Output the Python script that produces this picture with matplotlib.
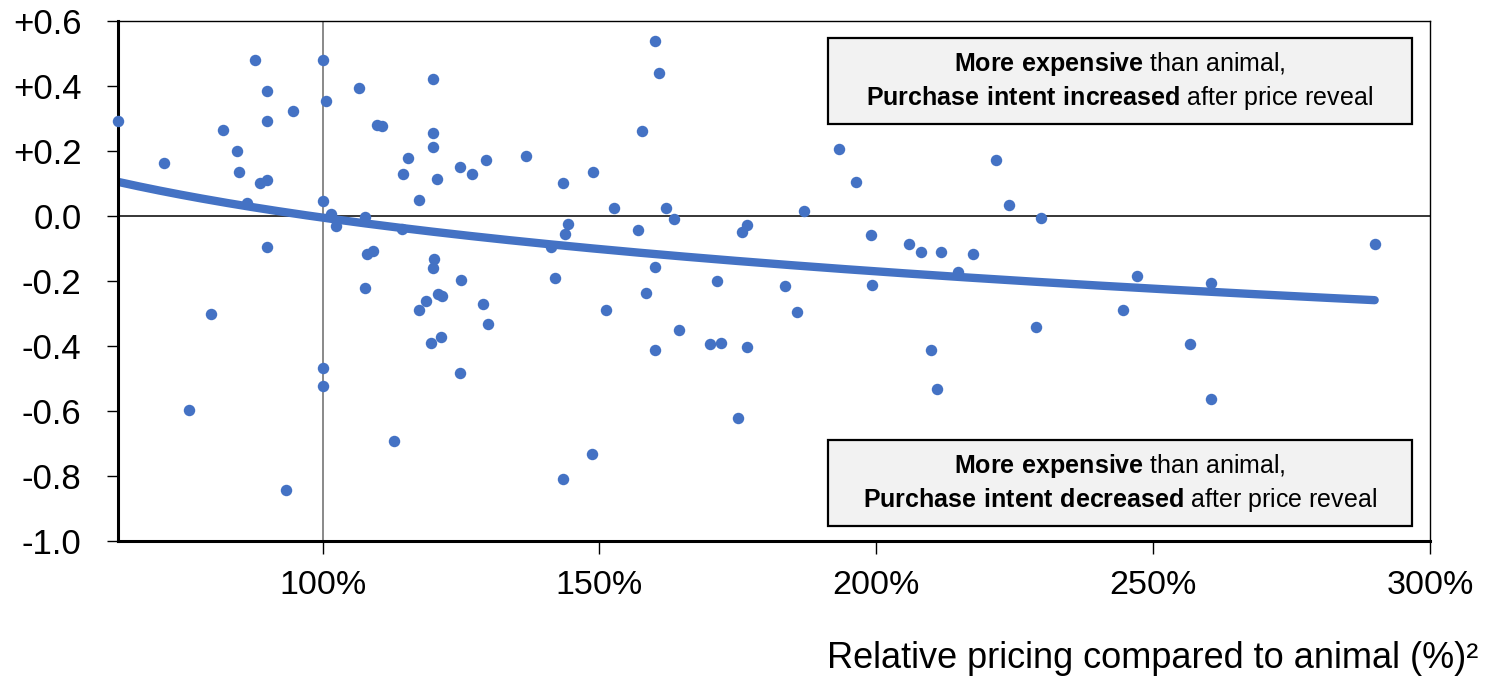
import matplotlib
matplotlib.use("Agg")
import matplotlib.pyplot as plt
import matplotlib.patches as patches
import numpy as np

plt.rcParams['font.family'] = ['Liberation Sans', 'DejaVu Sans']
plt.rcParams['mathtext.fontset'] = 'custom'
plt.rcParams['mathtext.rm'] = 'Liberation Sans'
plt.rcParams['mathtext.bf'] = 'Liberation Sans:bold'

# relative price vs animal (%), change in purchase intent after price reveal
price_pct = [
    63.0, 71.3, 87.8, 82.0, 84.5, 84.9, 89.9, 89.9, 94.7, 88.7,
    90.0, 86.4, 100.0, 100.7, 100.0, 101.6, 102.5, 106.6, 109.9, 110.8,
    107.6, 119.9, 120.0, 120.0, 115.4, 114.6, 120.6, 117.5, 124.8, 127.0,
    129.5, 136.7, 114.3, 90.0, 108.1, 109.1, 120.2, 119.9, 125.0, 107.6,
    79.9, 75.8, 93.4, 100.0, 100.0, 112.9, 120.8, 121.6, 118.7, 117.5,
    129.0, 129.9, 119.6, 121.3, 124.8, 143.4, 148.8, 160.1, 160.7, 157.6,
    152.6, 162.0, 163.4, 144.4, 143.7, 157.0, 141.2, 175.7, 176.7, 187.0,
    193.3, 196.3, 199.1, 205.9, 208.1, 211.7, 160.1, 142.0, 171.3, 151.1,
    158.5, 183.6, 185.6, 199.2, 164.3, 160.1, 170.0, 172.0, 176.6, 175.0,
    148.7, 143.4, 209.8, 210.9, 217.4, 214.8, 224.0, 221.6, 229.8, 247.0,
    260.4, 244.5, 228.8, 256.7, 260.5, 290.0,
]
intent_change = [
    0.292, 0.162, 0.481, 0.265, 0.201, 0.136, 0.386, 0.292, 0.324, 0.100,
    0.111, 0.039, 0.481, 0.355, 0.046, 0.005, -0.031, 0.393, 0.280, 0.276,
    -0.004, 0.420, 0.254, 0.213, 0.177, 0.128, 0.114, 0.049, 0.151, 0.128,
    0.173, 0.186, -0.039, -0.097, -0.118, -0.108, -0.132, -0.161, -0.197, -0.221,
    -0.302, -0.597, -0.843, -0.467, -0.523, -0.692, -0.239, -0.246, -0.262, -0.290,
    -0.270, -0.332, -0.390, -0.371, -0.482, 0.100, 0.136, 0.539, 0.441, 0.261,
    0.024, 0.024, -0.009, -0.025, -0.056, -0.043, -0.096, -0.050, -0.028, 0.016,
    0.205, 0.103, -0.058, -0.086, -0.110, -0.110, -0.157, -0.192, -0.200, -0.289,
    -0.236, -0.214, -0.295, -0.212, -0.350, -0.413, -0.394, -0.390, -0.402, -0.623,
    -0.732, -0.809, -0.413, -0.531, -0.118, -0.173, 0.034, 0.172, -0.005, -0.184,
    -0.205, -0.289, -0.341, -0.394, -0.563, -0.087,
]

y_ticks = [0.6, 0.4, 0.2, 0.0, -0.2, -0.4, -0.6, -0.8, -1.0]
y_tick_labels = ['+0.6', '+0.4', '+0.2', '0.0', '-0.2', '-0.4', '-0.6', '-0.8', '-1.0']
x_ticks = [100, 150, 200, 250, 300]
x_tick_labels = ['100%', '150%', '200%', '250%', '300%']

blue = '#4472C4'

fig = plt.figure(figsize=(14.99, 6.77), dpi=100)
ax = fig.add_axes([0.0785, 0.201, 0.8755, 0.768])

x = np.array(price_pct)
y = np.array(intent_change)

# reference lines
ax.axhline(0, color='black', lw=1.1, zorder=1)
ax.axvline(100, color='#808080', lw=1.3, zorder=1)

ax.scatter(x, y, s=68, color=blue, zorder=3, clip_on=False, linewidths=0)

# logarithmic trend line (fit on the points)
b, a = np.polyfit(np.log(x), y, 1)
xt = np.linspace(x.min(), x.max(), 300)
ax.plot(xt, a + b * np.log(xt), color=blue, lw=6, solid_capstyle='round', zorder=2)

ax.set_xlim(63, 300)
ax.set_ylim(-1.0, 0.6)
ax.set_xticks(x_ticks)
ax.set_xticklabels(x_tick_labels)
ax.set_yticks(y_ticks)
ax.set_yticklabels(y_tick_labels)
ax.tick_params(axis='y', direction='out', length=8, width=1, pad=18, labelsize=25)
ax.tick_params(axis='x', direction='out', length=9, width=1, pad=12, labelsize=24.5)

for side in ['left', 'bottom']:
    ax.spines[side].set_linewidth(2.2)
for side in ['top', 'right']:
    ax.spines[side].set_linewidth(1.0)

# annotation boxes
boxes = [
    (0.802, r'$\bf{More\ expensive}$ than animal,',
     r'$\bf{Purchase\ intent\ increased}$ after price reveal'),
    (0.029, r'$\bf{More\ expensive}$ than animal,',
     r'$\bf{Purchase\ intent\ decreased}$ after price reveal'),
]
for y0, line1, line2 in boxes:
    rect = patches.Rectangle((0.541, y0), 0.445, 0.165, transform=ax.transAxes,
                             facecolor='#F2F2F2', edgecolor='black', lw=1.6, zorder=4)
    ax.add_patch(rect)
    cx = 0.541 + 0.445 / 2
    ax.text(cx, y0 + 0.165 * 0.70, line1, transform=ax.transAxes, ha='center',
            va='center', fontsize=18, zorder=5)
    ax.text(cx, y0 + 0.165 * 0.30, line2, transform=ax.transAxes, ha='center',
            va='center', fontsize=18, zorder=5)

fig.text(0.986, 0.028, 'Relative pricing compared to animal (%)\u00b2', ha='right',
         va='center', fontsize=26)

fig.savefig('out.png', dpi=100)
